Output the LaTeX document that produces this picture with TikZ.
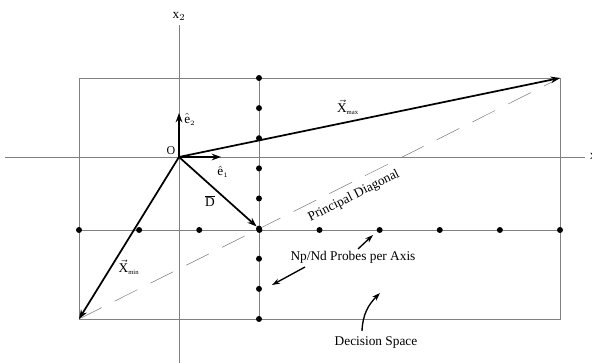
\documentclass[tikz,border=0pt]{standalone}
\usepackage{fontspec}
\setmainfont{Liberation Serif}
\usetikzlibrary{arrows.meta}
\tikzset{
  axisline/.style={gray, line width=0.5pt},
  vecline/.style={line width=1.3pt, -{Stealth[length=7pt,width=5pt]}},
  probe/.style={circle, fill, inner sep=0pt, minimum size=4.5pt},
  pointer/.style={line width=1pt, -{Stealth[length=6pt,width=4pt]}},
}
\begin{document}
\begin{tikzpicture}[x=0.75pt, y=0.75pt]
    \useasboundingbox (0,0) rectangle (592,363);
    % axes and decision space
    \coordinate (O) at (179,206);
    \coordinate (xmin) at (79,44);
    \coordinate (xmax) at (560,285);
    \draw[axisline] (5,206) -- (585,206) node[right, black] {x$_1$};
    \draw[axisline] (179,0) -- (179,338) node[above, black] {x$_2$};
    \draw[axisline] (xmin) rectangle (xmax);
    \draw[axisline] (259,285) -- (259,44);
    \draw[axisline] (79,133) -- (560,133);
    \draw[gray, dash pattern=on 19pt off 11pt] (xmin) -- (xmax);
    % probes
    \foreach \i in {0,...,8} {
      \node[probe] (v\i) at (259,{285-30.125*\i}) {};
      \node[probe] (h\i) at ({79+60.125*\i},133) {};
    }
    % vectors
    \draw[vecline] (O) -- (179,250) node[right, pos=0.85] {$\hat{\mathrm{e}}_{\scriptscriptstyle 2}$};
    \draw[vecline] (O) -- (221,206);
    \node (e1) at (223,191) {$\hat{\mathrm{e}}_{\scriptscriptstyle 1}$};
    \draw[vecline] (O) -- (xmax);
    \draw[vecline] (O) -- (xmin);
    \draw[vecline] (O) -- (v5);
    \node (o) at (171,212) {\small O};
    \node (lmax) at (348,256) {$\vec{\mathrm{X}}_{\scriptscriptstyle\mathrm{max}}$};
    \node (lmin) at (129,96) {$\vec{\mathrm{X}}_{\scriptscriptstyle\mathrm{min}}$};
    \node (ld) at (210,162) {$\overline{\mathrm{D}}$};
    \node[rotate=26.6] (pd) at (354,167) {Principal Diagonal};
    % annotations
    \node (np) at (353,106) {Np/Nd Probes per Axis};
    \coordinate (np1) at (358,114);
    \coordinate (np2) at (305,96);
    \draw[pointer] (np1) -- (373,128);
    \draw[pointer] (np2) -- (272,78);
    \node (ds) at (376,20) {Decision Space};
    \coordinate (ds1) at (362,32);
    \draw[pointer] (ds1) to[out=88, in=225] (380,70);
\end{tikzpicture}
\end{document}
